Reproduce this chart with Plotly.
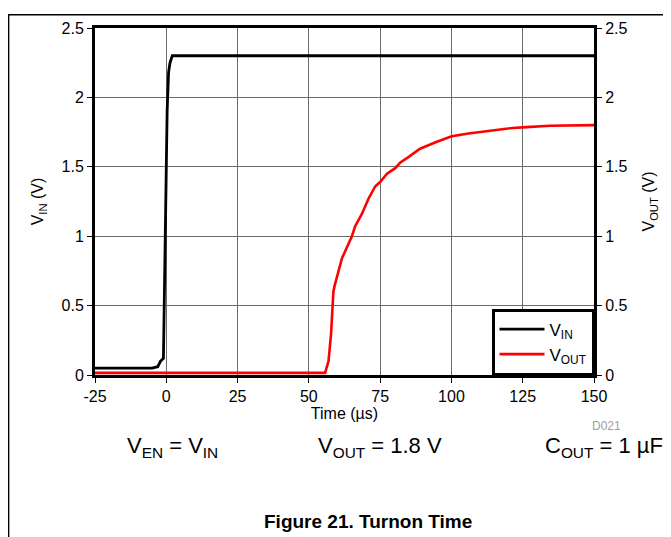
import plotly.graph_objects as go

# Data
t_vin = [-25, -5, -3, -2, -1, -0.5, 0.3, 0.8, 1.3, 2.1, 150]
v_in = [0.05, 0.05, 0.06, 0.1, 0.12, 0.9, 1.9, 2.18, 2.25, 2.3, 2.3]

t_vout = [-25, 55.7, 56.9, 57.8, 58.6, 59.0, 61.6, 65.1, 66.2, 68.6, 70.9, 73.3, 75.0,
          77.4, 80.3, 82.0, 84.9, 89.0, 94.9, 100.1, 106.0, 114.3, 121.4, 126.2,
          134.6, 150]
v_out = [0.015, 0.015, 0.1, 0.3, 0.6, 0.64, 0.84, 1.0, 1.07, 1.16, 1.27, 1.36, 1.39,
         1.45, 1.49, 1.53, 1.57, 1.63, 1.68, 1.72, 1.74, 1.76, 1.78, 1.786,
         1.796, 1.80]

x_ticks = [-25, 0, 25, 50, 75, 100, 125, 150]
x_tick_text = ["-25", "0", "25", "50", "75", "100", "125", "150"]
y_ticks = [0, 0.5, 1, 1.5, 2, 2.5]
y_tick_text = ["0", "0.5", "1", "1.5", "2", "2.5"]

FONT = "Liberation Sans, Arial, sans-serif"
OFF = 8  # page body margin
W, H = 671 - OFF, 537 - OFF
ML, MR, MT, MB = 95 - OFF, 77, 22 - OFF, 162
PW, PH = W - ML - MR, H - MT - MB


def px(xp):  # window pixel -> paper x
    return (xp - OFF - ML) / PW


def py(yp):  # window pixel -> paper y
    return (H - MB - (yp - OFF)) / PH


fig = go.Figure()
fig.add_trace(go.Scatter(x=t_vin, y=v_in, mode="lines", name="V<sub>IN</sub>",
                         line=dict(color="black", width=2.8), yaxis="y"))
fig.add_trace(go.Scatter(x=t_vout, y=v_out, mode="lines", name="V<sub>OUT</sub>",
                         line=dict(color="#ff0000", width=2.6), yaxis="y2"))

axis_common = dict(showline=True, linecolor="black", linewidth=3,
                   ticks="outside", ticklen=5, tickcolor="black", tickwidth=1,
                   tickfont=dict(family=FONT, size=16, color="black"),
                   zeroline=False)

fig.update_layout(
    width=W, height=H,
    margin=dict(l=ML, r=MR, t=MT, b=MB),
    paper_bgcolor="white", plot_bgcolor="white",
    font=dict(family=FONT, color="black"),
    showlegend=True,
    legend=dict(x=1, y=0, xanchor="right", yanchor="bottom",
                bgcolor="white", bordercolor="black", borderwidth=2.5,
                font=dict(family=FONT, size=17, color="black"),
                tracegroupgap=0, itemwidth=45),
    xaxis=dict(range=[-25, 150], tickvals=x_ticks, ticktext=x_tick_text, showgrid=True,
               gridcolor="#6a6a6a", gridwidth=1.2, mirror=True,
               title=dict(text="Time (µs)", font=dict(family=FONT, size=16), standoff=2),
               **axis_common),
    yaxis=dict(range=[0, 2.5], tickvals=y_ticks, ticktext=y_tick_text, showgrid=True,
               gridcolor="#6a6a6a", gridwidth=1.2,
               title=dict(text="V<sub>IN</sub> (V)", font=dict(family=FONT, size=16), standoff=14),
               **axis_common),
    yaxis2=dict(range=[0, 2.5], tickvals=y_ticks, ticktext=y_tick_text, overlaying="y",
                side="right", showgrid=False,
                title=dict(text="V<sub>OUT</sub> (V)", font=dict(family=FONT, size=16), standoff=17),
                **axis_common),
)

# page border lines (top and left)
fig.add_shape(type="line", xref="paper", yref="paper", x0=px(0), x1=px(700), y0=py(8.6), y1=py(8.6),
              line=dict(color="black", width=1.5))
fig.add_shape(type="line", xref="paper", yref="paper", x0=px(8.6), x1=px(8.6), y0=py(8.6), y1=py(560),
              line=dict(color="black", width=1.5))

ann = [
    dict(text="D021", x=px(606), y=py(427), size=12, color="#a0a0a0"),
    dict(text="V<sub>EN</sub> = V<sub>IN</sub>", x=px(172), y=py(448), size=22, color="black"),
    dict(text="V<sub>OUT</sub> = 1.8 V", x=px(380), y=py(448), size=22, color="black"),
    dict(text="C<sub>OUT</sub> = 1 µF", x=px(604), y=py(448), size=22, color="black"),
    dict(text="<b>Figure 21. Turnon Time</b>", x=px(368), y=py(524), size=19, color="black"),
]
for a in ann:
    fig.add_annotation(text=a["text"], x=a["x"], y=a["y"], xref="paper", yref="paper",
                       showarrow=False, xanchor="center", yanchor="middle",
                       font=dict(family=FONT, size=a["size"], color=a["color"]))

fig.write_html("out.html")
